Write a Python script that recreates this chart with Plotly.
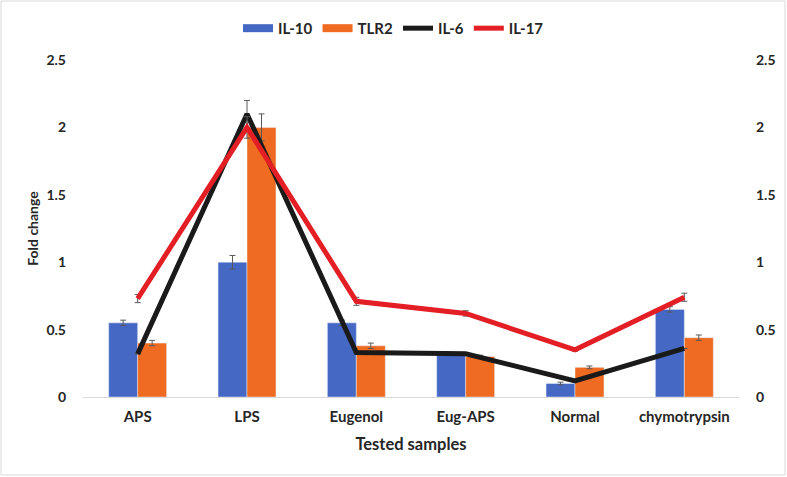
import plotly.graph_objects as go

categories = ["APS", "LPS", "Eugenol", "Eug-APS", "Normal", "chymotrypsin"]
il10 = [0.55, 1.00, 0.55, 0.32, 0.10, 0.65]
il10_err = [0.02, 0.05, 0.02, 0.01, 0.01, 0.02]
tlr2 = [0.40, 2.00, 0.38, 0.30, 0.22, 0.44]
tlr2_err = [0.02, 0.10, 0.02, 0.01, 0.01, 0.02]
il6 = [0.32, 2.10, 0.33, 0.32, 0.12, 0.36]
il6_err = [0.0, 0.10, 0.0, 0.0, 0.0, 0.0]
il17 = [0.73, 2.00, 0.71, 0.62, 0.35, 0.74]
il17_err = [0.03, 0.08, 0.03, 0.02, 0.01, 0.03]
y_ticks = [0, 0.5, 1, 1.5, 2, 2.5]
y_ticktext = ["0", "0.5", "1", "1.5", "2", "2.5"]

FONT = "Lato"
TXT = "#262626"
BLUE = "#4568C5"
ORANGE = "#EE6B21"
BLACK = "#1a1a1a"
RED = "#E31E24"
err_style = dict(type="data", thickness=1, width=3, color="#595959")

fig = go.Figure()
fig.add_trace(go.Bar(x=categories, y=il10, name="IL-10", marker_color=BLUE, showlegend=False,
                     error_y=dict(array=il10_err, **err_style)))
fig.add_trace(go.Bar(x=categories, y=tlr2, name="TLR2", marker_color=ORANGE, showlegend=False,
                     error_y=dict(array=tlr2_err, **err_style)))
fig.add_trace(go.Scatter(x=categories, y=il6, name="IL-6", mode="lines", yaxis="y2", showlegend=False,
                         line=dict(color=BLACK, width=5),
                         error_y=dict(array=il6_err, **err_style)))
fig.add_trace(go.Scatter(x=categories, y=il17, name="IL-17", mode="lines", yaxis="y2", showlegend=False,
                         line=dict(color=RED, width=5),
                         error_y=dict(array=il17_err, **err_style)))

# legend entries (Excel-style wide swatches)
for nm, col, w in [("IL-10", BLUE, 8), ("TLR2", ORANGE, 8), ("IL-6", BLACK, 5), ("IL-17", RED, 5)]:
    fig.add_trace(go.Scatter(x=[None], y=[None], name=nm, mode="lines",
                             line=dict(color=col, width=w), showlegend=True))

tick_font = dict(family=FONT, size=14, weight="bold", color=TXT)

fig.update_layout(
    width=787, height=477,
    margin=dict(l=83, r=48, t=60, b=80, autoexpand=False),
    paper_bgcolor="white", plot_bgcolor="white",
    barmode="group", bargap=0.47, bargroupgap=0,
    font=dict(family=FONT, color=TXT, size=14),
    showlegend=True,
    legend=dict(orientation="h", x=0.5, xanchor="center", y=0.975, yanchor="top",
                yref="container", xref="container",
                font=dict(family=FONT, size=15, weight="bold", color=TXT),
                itemwidth=30, traceorder="normal", tracegroupgap=0),
    xaxis=dict(showline=True, linecolor="#D9D9D9", linewidth=1, showgrid=False, ticks="",
               tickfont=dict(family=FONT, size=15, weight="bold", color=TXT), ticklabelstandoff=6,
               title=dict(text="Tested samples", font=dict(family=FONT, size=16.5, weight="bold", color=TXT),
                          standoff=14)),
    yaxis=dict(range=[0, 2.5], tickvals=y_ticks, ticktext=y_ticktext, showgrid=False,
               zeroline=False, showline=False, ticks="",
               tickfont=tick_font,
               ticklabelstandoff=16,
               title=dict(text="Fold change", font=dict(family=FONT, size=14, weight="bold", color=TXT),
                          standoff=4)),
    yaxis2=dict(range=[0, 2.5], tickvals=y_ticks, ticktext=y_ticktext, overlaying="y", side="right",
                showgrid=False, zeroline=False, showline=False, ticks="",
                tickfont=tick_font,
                ticklabelstandoff=16),
)
fig.add_shape(type="rect", xref="paper", yref="paper", x0=-82/656, x1=1+46/656,
              y0=-78/337, y1=1+59/337, line=dict(color="#D9D9D9", width=1))

fig.write_html("out.html")
